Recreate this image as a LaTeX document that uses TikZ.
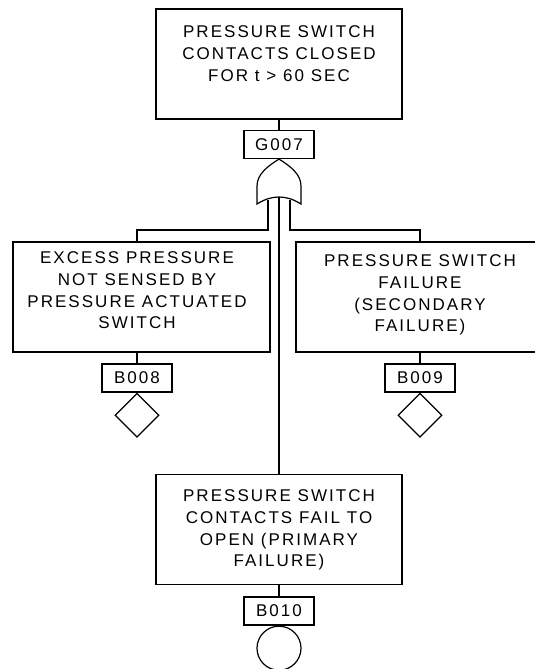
\documentclass[tikz,border=0pt]{standalone}
\usepackage{fontspec}
\setmainfont{Liberation Sans}[LetterSpace=12]
\usetikzlibrary{arrows.meta,positioning,shapes.geometric,calc}

\begin{document}
\begin{tikzpicture}[
    x=1pt, y=-1pt,
    line width=1.2pt,
    evento/.style={
        rectangle,
        draw=black,
        fill=white,
        minimum width=246pt,
        minimum height=110pt,
        inner sep=0pt
    },
    texto/.style={
        anchor=north,
        align=center,
        inner sep=0pt,
        font=\fontsize{17}{21.8}\selectfont
    },
    rotulo/.style={
        rectangle,
        draw=black,
        fill=white,
        minimum width=70pt,
        minimum height=28pt,
        inner sep=0pt,
        font=\fontsize{17}{20}\selectfont
    },
    basico/.style={circle, draw=black, minimum size=44pt, inner sep=0pt, anchor=north},
    naodes/.style={diamond, draw=black, aspect=1, minimum size=44pt, inner sep=0pt, anchor=north},
    ligacao/.style={draw=black}
]
\useasboundingbox (0,0) rectangle (535,669);

% EVENTO DO TOPO
\node[evento] (topo) at (279,64) {};
\node[texto] (topotxt) at (279,25) {PRESSURE SWITCH\\CONTACTS CLOSED\\FOR t > 60 SEC};
\node[rotulo] (g007) at (279,144.5) {G007};

% PORTA OU
\coordinate (porta) at (g007.south);
\draw[fill=white] (257,204) -- (257,186) .. controls (257,174) and (268,166) .. (porta)
    .. controls (290,166) and (301,174) .. (301,186) -- (301,204)
    .. controls (293,199) and (286,197) .. (279,197)
    .. controls (272,197) and (265,199) .. (257,204) -- cycle;
\coordinate (ent1) at (268,200);
\coordinate (ent2) at (279,197);
\coordinate (ent3) at (290,200);

% EVENTOS INTERMEDIARIOS
\node[evento, minimum width=257pt] (esq) at (141.5,297) {};
\node[texto] (esqtxt) at (137,251) {EXCESS PRESSURE\\NOT SENSED BY\\PRESSURE ACTUATED\\SWITCH};
\node[evento, minimum width=250pt] (dir) at (421,297) {};
\node[texto] (dirtxt) at (420,254) {PRESSURE SWITCH\\FAILURE\\(SECONDARY\\FAILURE)};

\node[rotulo] (b008) at (137,378) {B008};
\node[naodes] (d008) at (b008.south) {};
\node[rotulo] (b009) at (420,378) {B009};
\node[naodes] (d009) at (b009.south) {};

% EVENTO PRIMARIO
\node[evento] (base) at (279,529.5) {};
\node[texto] (basetxt) at (279,489) {PRESSURE SWITCH\\CONTACTS FAIL TO\\OPEN (PRIMARY\\FAILURE)};
\node[rotulo] (b010) at (279,611) {B010};
\node[basico] (c010) at (b010.south) {};

% --- LIGACOES ---
\coordinate (barra) at (0,230);
\draw[ligacao] (topo.south) -- (g007.north);
\draw[ligacao] (ent1) |- (barra -| b008) -- (b008 |- esq.north);
\draw[ligacao] (ent3) |- (barra -| b009) -- (b009 |- dir.north);
\draw[ligacao] (ent2) -- (base.north);
\draw[ligacao] (b008 |- esq.south) -- (b008.north);
\draw[ligacao] (b009 |- dir.south) -- (b009.north);
\draw[ligacao] (base.south) -- (b010.north);

\end{tikzpicture}
\end{document}
